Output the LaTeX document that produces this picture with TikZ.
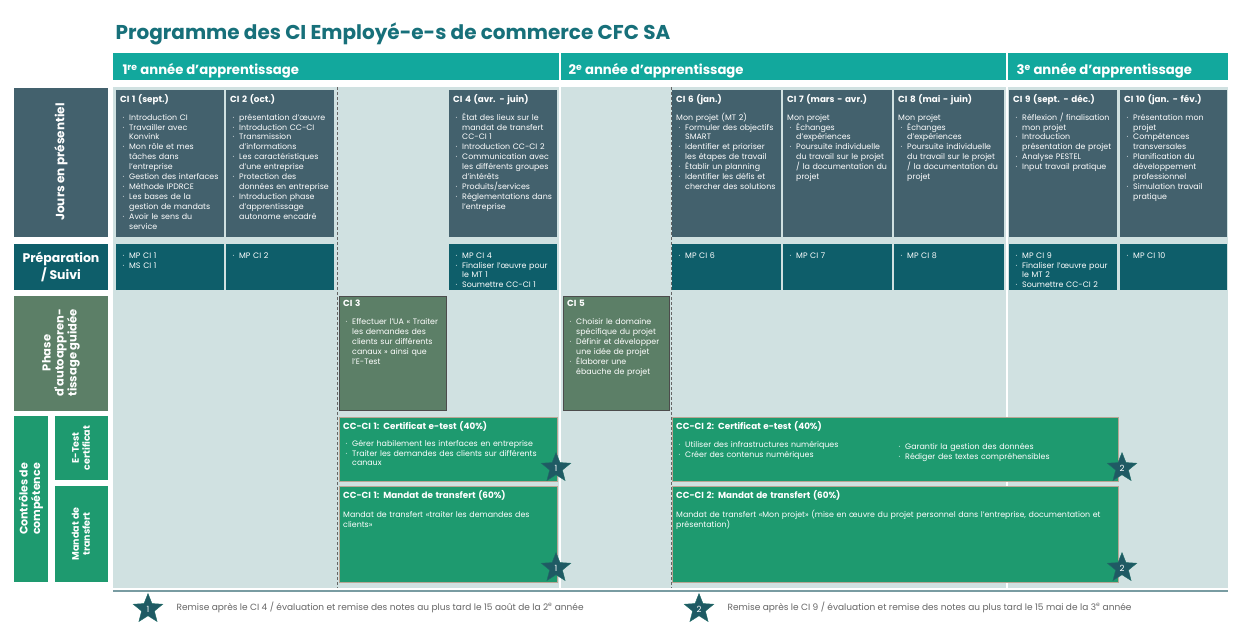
\documentclass[tikz,border=0pt]{standalone}
\usepackage{fontspec}
\setmainfont{Poppins}
\newfontfamily\hdfont{Poppins}
\usetikzlibrary{shapes.geometric}
\usetikzlibrary{positioning}
\definecolor{titlec}{HTML}{17707A}
\definecolor{yearc}{HTML}{12A89D}
\definecolor{presc}{HTML}{43616D}
\definecolor{prepc}{HTML}{0E5E6A}
\definecolor{phasec}{HTML}{5C7F67}
\definecolor{ccc}{HTML}{1E9A6F}
\definecolor{bgc}{HTML}{D0E1E1}
\definecolor{starc}{HTML}{1F5A64}
\newcommand{\nohy}{\hyphenpenalty=10000\relax\exhyphenpenalty=10000\relax}
\tikzset{txt/.style={anchor=north west,inner sep=0pt,text=white,align=left,font=\fontsize{7.9}{9.9}\selectfont\nohy}}
\tikzset{lab/.style={text=white,rotate=90,align=center,font=\hdfont\bfseries\fontsize{12}{13.5}\selectfont}}
\tikzset{starx/.style={star,star points=5,star point ratio=2.3,fill=starc,draw=starc!70!ccc,inner sep=0pt,minimum size=31pt,text=white,font=\fontsize{8.5}{8.5}\selectfont}}
\newcommand{\hd}[1]{{\fontsize{8.8}{10}\selectfont\bfseries #1}\par}
\newcommand{\bl}{\par\leftskip=9pt\relax\noindent\llap{·\hspace{5pt}}}
\newcommand{\pl}{\par\leftskip=0pt\relax\noindent}
% cell: x1 y1 x2 y2 fill name content
\newcommand{\cell}[7]{\fill[#5] (#1,#2) rectangle (#3,#4);
  \node[txt,text width=#3-#1-9pt] (#6) at (#1+4,#2+4) {#7\par};}

\begin{document}
\begin{tikzpicture}[x=1pt,y=-1pt]
\useasboundingbox[fill=white] (0,0) rectangle (1233,626);

\node[anchor=west,text=titlec,font=\hdfont\bfseries\fontsize{20}{22}\selectfont] (title) at (112,34) {Programme des CI Employé-e-s de commerce CFC SA};

% years
\fill[yearc] (113,53) rectangle (1228,80);
\draw[white,line width=2pt] (559.5,53) -- (559.5,80) (1007,53) -- (1007,80);
\node[anchor=west,text=white,font=\hdfont\bfseries\fontsize{13.2}{14}\selectfont] (y1) at (119,71) {1\textsuperscript{re} année d’apprentissage};
\node[anchor=west,text=white,font=\hdfont\bfseries\fontsize{13.2}{14}\selectfont] (y2) at (565,71) {2\textsuperscript{e} année d’apprentissage};
\node[anchor=west,text=white,font=\hdfont\bfseries\fontsize{13.2}{14}\selectfont] (y3) at (1013,71) {3\textsuperscript{e} année d’apprentissage};

% background
\fill[bgc] (113,87) rectangle (1228,588);
\draw[white,line width=1.5pt] (560,87) -- (560,588) (1007,87) -- (1007,588);
\draw[black!60,densely dashed,line width=0.5pt] (337,87) -- (337,588) (671,87) -- (671,588);

% row labels
\fill[presc] (14,88) rectangle (108,237);
\node[lab] (lpres) at (61,162) {Jours en présentiel};
\fill[prepc] (14,244) rectangle (108,290);
\node[text=white,align=center,font=\hdfont\bfseries\fontsize{12.5}{14.5}\selectfont] (lprep) at (61,267) {Préparation\\/ Suivi};
\fill[phasec] (14,296) rectangle (108,411);
\node[lab,font=\hdfont\bfseries\fontsize{11.5}{13}\selectfont] (lphase) at (61,353) {Phase\\d'autoappren-\\tissage guidée};
\fill[ccc] (14,416) rectangle (48,582);
\node[lab,font=\hdfont\bfseries\fontsize{11}{12.5}\selectfont] (lcc) at (31,499) {Contrôles de\\compétence};
\fill[ccc] (55,416) rectangle (108,480);
\node[lab,font=\hdfont\bfseries\fontsize{9.5}{11}\selectfont] (let) at (81,448) {E-Test\\certificat};
\fill[ccc] (55,486) rectangle (108,582);
\node[lab,font=\hdfont\bfseries\fontsize{9.5}{11}\selectfont] (lmt) at (81,534) {Mandat de\\transfert};

% jours en présentiel
\cell{116}{90}{224}{237}{presc}{ci1}{\hd{CI 1 (sept.)}\vspace{8pt}\bl Introduction CI\bl Travailler avec Konvink\bl Mon rôle et mes tâches dans l’entreprise\bl Gestion des interfaces\bl Méthode IPDRCE\bl Les bases de la gestion de mandats\bl Avoir le sens du service}
\cell{226}{90}{334}{237}{presc}{ci2}{\hd{CI 2 (oct.)}\vspace{8pt}\bl présentation d’œuvre\bl Introduction CC-CI\bl Transmission d’informations\bl Les caractéristiques d’une entreprise\bl Protection des données en entreprise\bl Introduction phase d’apprentissage autonome encadré}
\cell{449}{90}{557}{237}{presc}{ci4}{\hd{CI 4 (avr. - juin)}\vspace{8pt}\bl État des lieux sur le mandat de transfert CC-CI 1\bl Introduction CC-CI 2\bl Communication avec les différents groupes d’intérêts\bl Produits/services\bl Réglementations dans l’entreprise}
\cell{672}{90}{781}{237}{presc}{ci6}{\hd{CI 6 (jan.)}\vspace{8pt}\pl Mon projet (MT 2)\bl Formuler des objectifs SMART\bl Identifier et prioriser les étapes de travail\bl Établir un planning\bl Identifier les défis et chercher des solutions}
\cell{783}{90}{892}{237}{presc}{ci7}{\hd{CI 7 (mars - avr.)}\vspace{8pt}\pl Mon projet\bl Échanges d’expériences\bl Poursuite individuelle du travail sur le projet / la documentation du projet}
\cell{894}{90}{1004}{237}{presc}{ci8}{\hd{CI 8 (mai - juin)}\vspace{8pt}\pl Mon projet\bl Échanges d’expériences\bl Poursuite individuelle du travail sur le projet / la documentation du projet}
\cell{1009}{90}{1117}{237}{presc}{ci9}{\hd{CI 9 (sept. - déc.)}\vspace{8pt}\bl Réflexion / finalisation mon projet\bl Introduction présentation de projet\bl Analyse PESTEL\bl Input travail pratique}
\cell{1120}{90}{1227}{237}{presc}{ci10}{\hd{CI 10 (jan. - fév.)}\vspace{8pt}\bl Présentation mon projet\bl Compétences transversales\bl Planification du développement professionnel\bl Simulation travail pratique}

% préparation / suivi
\cell{116}{244}{224}{290}{prepc}{mp1}{\bl MP CI 1\bl MS CI 1}
\cell{226}{244}{334}{290}{prepc}{mp2}{\bl MP CI 2}
\cell{449}{244}{557}{290}{prepc}{mp4}{\bl MP CI 4\bl Finaliser l’œuvre pour le MT 1\bl Soumettre CC-CI 1}
\cell{672}{244}{781}{290}{prepc}{mp6}{\bl MP CI 6}
\cell{783}{244}{892}{290}{prepc}{mp7}{\bl MP CI 7}
\cell{894}{244}{1004}{290}{prepc}{mp8}{\bl MP CI 8}
\cell{1009}{244}{1117}{290}{prepc}{mp9}{\bl MP CI 9\bl Finaliser l’œuvre pour le MT 2\bl Soumettre CC-CI 2}
\cell{1120}{244}{1227}{290}{prepc}{mp10}{\bl MP CI 10}

% phase d'autoapprentissage
\cell{339}{296}{446}{410}{phasec,draw=black!70,line width=1pt}{ci3}{\hd{CI 3}\vspace{8pt}\bl Effectuer l’UA « Traiter les demandes des clients sur différents canaux » ainsi que l’E-Test}
\cell{563}{296}{669}{410}{phasec,draw=black!70,line width=1pt}{ci5}{\hd{CI 5}\vspace{8pt}\bl Choisir le domaine spécifique du projet\bl Définir et développer une idée de projet\bl Élaborer une ébauche de projet}

% contrôles de compétence
\cell{339}{417}{557}{481}{ccc,draw=brown!40!gray!70,line width=1pt}{et1}{\hd{CC-CI 1: Certificat e-test (40\%)}\vspace{7pt}\bl Gérer habilement les interfaces en entreprise\bl Traiter les demandes des clients sur différents canaux}
\cell{339}{486}{557}{582}{ccc,draw=brown!40!gray!70,line width=1pt}{mt1}{\hd{CC-CI 1: Mandat de transfert (60\%)}\vspace{9pt}\pl Mandat de transfert «traiter les demandes des clients»}
\cell{672}{417}{1118}{481}{ccc,draw=brown!40!gray!70,line width=1pt}{et2}{\hd{CC-CI 2: Certificat e-test (40\%)}\vspace{8pt}\bl Utiliser des infrastructures numériques\bl Créer des contenus numériques}
\node[txt,text width=200pt] (et2b) at (896,439) {\bl Garantir la gestion des données\bl Rédiger des textes compréhensibles\par};
\cell{672}{486}{1118}{582}{ccc,draw=brown!40!gray!70,line width=1pt}{mt2}{\hd{CC-CI 2: Mandat de transfert (60\%)}\vspace{9pt}\pl Mandat de transfert «Mon projet» (mise en œuvre du projet personnel dans l’entreprise, documentation et présentation)}

% stars
\node[starx] (s1a) at (556,468) {1};
\node[starx] (s1b) at (556,568) {1};
\node[starx] (s2a) at (1122,468) {2};
\node[starx] (s2b) at (1122,568) {2};

% footer
\draw[starc!60,line width=1.5pt] (113,591) -- (1228,591);
\node[starx] (f1) at (148,609) {1};
\node[anchor=west,text=black!60,font=\fontsize{9}{10}\selectfont] (f1t) at (173,607) {Remise après le CI 4 / évaluation et remise des notes au plus tard le 15 août de la 2\textsuperscript{e} année};
\node[starx] (f2) at (699,609) {2};
\node[anchor=west,text=black!60,font=\fontsize{9}{10}\selectfont] (f2t) at (724,607) {Remise après le CI 9 / évaluation et remise des notes au plus tard le 15 mai de la 3\textsuperscript{e} année};

\end{tikzpicture}
\end{document}
